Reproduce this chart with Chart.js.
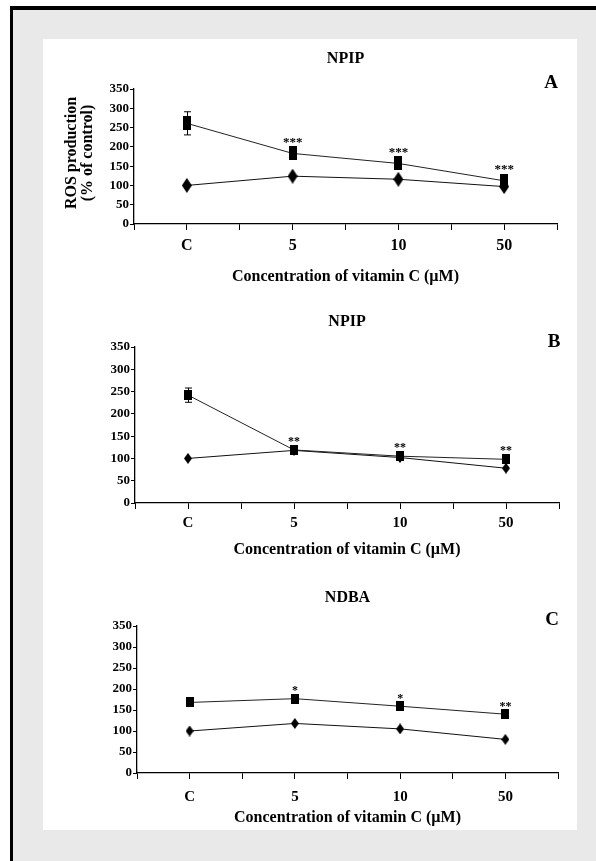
<!DOCTYPE html>
<html>
<head>
<meta charset="utf-8">
<title>ROS production vs vitamin C</title>
<script src="https://cdn.jsdelivr.net/npm/chart.js@4.4.1/dist/chart.umd.min.js"></script>
<style>
    html, body { margin: 0; padding: 0; background: #fff; }
    body { width: 596px; height: 861px; position: relative; overflow: hidden; }
    #frame {
        position: absolute; left: 10px; top: 6px; width: 586px; height: 855px;
        box-sizing: border-box; background: #e9e9e9;
        border-top: 4px solid #000; border-left: 3px solid #000;
    }
    #panel { position: absolute; left: 43px; top: 39px; width: 534px; height: 791px; background: #fff; }
    canvas { position: absolute; left: 0; }
</style>
</head>
<body>
<div id="frame"></div>
<div id="panel"></div>
<canvas id="chartA" width="596" height="290" style="top:0px"></canvas>
<canvas id="chartB" width="596" height="280" style="top:290px"></canvas>
<canvas id="chartC" width="596" height="291" style="top:570px"></canvas>

<script>
// values (ROS production, % of control)
const doseLabels = ['C', '5', '10', '50'];
const yMax = 350;
const yStep = 50;

// A - NPIP
const npipAControl = [100, 124, 116, 97];
const npipAVitC = [261, 183, 157, 112];
const npipASem = [30, 0, 0, 0];
const npipAStars = ['', '***', '***', '***'];

// B - NPIP
const npipBControl = [100, 118, 102, 78];
const npipBVitC = [242, 119, 105, 98];
const npipBSem = [16, 0, 0, 0];
const npipBStars = ['', '**', '**', '**'];

// C - NDBA
const ndbaControl = [100, 118, 105, 80];
const ndbaVitC = [168, 177, 159, 140];
const ndbaSem = [0, 0, 0, 0];
const ndbaStars = ['', '*', '*', '**'];

const SERIF = '"Liberation Serif", "Times New Roman", Times, serif';

function marker(shape, w, h) {
    const c = document.createElement('canvas');
    c.width = w; c.height = h;
    const g = c.getContext('2d');
    g.fillStyle = '#000';
    if (shape === 'square') {
        g.fillRect(0, 0, w, h);
    } else {
        g.beginPath();
        g.moveTo(w / 2, 0); g.lineTo(w, h / 2); g.lineTo(w / 2, h); g.lineTo(0, h / 2);
        g.closePath();
        g.fill();
    }
    return c;
}

// stars, error bars, panel letter and the two-line y title
const panelDecor = {
    id: 'panelDecor',
    beforeDatasetsDraw(chart, args, o) {
        const { ctx, scales: { x, y } } = chart;
        ctx.save();
        ctx.strokeStyle = '#000';
        ctx.lineWidth = 1;
        o.values.forEach((v, i) => {
            const e = o.sem[i];
            if (!e) return;
            const px = Math.round(x.getPixelForValue(i)) + 0.5;
            const hi = y.getPixelForValue(v + e), lo = y.getPixelForValue(v - e);
            ctx.beginPath();
            ctx.moveTo(px, hi); ctx.lineTo(px, lo);
            ctx.moveTo(px - 3.5, hi); ctx.lineTo(px + 3.5, hi);
            ctx.moveTo(px - 3.5, lo); ctx.lineTo(px + 3.5, lo);
            ctx.stroke();
        });
        ctx.restore();
    },
    afterDatasetsDraw(chart, args, o) {
        const { ctx, scales: { x, y } } = chart;
        ctx.save();
        ctx.fillStyle = '#000';
        ctx.font = `bold ${o.starSize}px ${SERIF}`;
        ctx.textAlign = 'center';
        ctx.textBaseline = 'alphabetic';
        o.stars.forEach((s, i) => {
            if (!s) return;
            const cy = y.getPixelForValue(o.values[i]) - o.starLift;
            ctx.fillText(s, x.getPixelForValue(i), cy + 0.48 * o.starSize);
        });
        ctx.restore();
    },
    afterDraw(chart, args, o) {
        const { ctx } = chart;
        ctx.save();
        ctx.fillStyle = '#000';
        ctx.textAlign = 'center';
        ctx.textBaseline = 'middle';
        ctx.font = `bold 19px ${SERIF}`;
        ctx.fillText(o.letter, o.letterX, o.letterY);

        ctx.font = `bold 16px ${SERIF}`;
        ctx.translate(o.yTitleX, o.yTitleY);
        ctx.rotate(-Math.PI / 2);
        ctx.fillText('ROS production', 0, 0);
        ctx.fillText('(% of control)', 0, o.yTitleGap);
        ctx.restore();
    }
};

function makePanel(id, p) {
    const top = p.canvasTop;
    const toPoints = (arr) => arr.map((v, i) => ({ x: i, y: v }));
    const tickFont = { family: SERIF, weight: 'bold', size: p.xFont, lineHeight: 1.2 };

    return new Chart(document.getElementById(id), {
        type: 'scatter',
        data: {
            datasets: [
                {
                    label: p.title + ' + vitamin C',
                    data: toPoints(p.treated),
                    showLine: true,
                    borderColor: '#222',
                    borderWidth: 1,
                    pointStyle: marker('square', p.sq[0], p.sq[1]),
                    pointRadius: 5,
                    pointHoverRadius: 5
                },
                {
                    label: 'vitamin C',
                    data: toPoints(p.control),
                    showLine: true,
                    borderColor: '#111',
                    borderWidth: 1,
                    pointStyle: marker('diamond', p.dm[0], p.dm[1]),
                    pointRadius: 5,
                    pointHoverRadius: 5
                }
            ]
        },
        options: {
            responsive: false,
            animation: false,
            events: [],
            layout: {
                padding: {
                    left: p.left - p.yW,
                    right: 596 - p.right,
                    top: 0,
                    bottom: p.canvasH - (p.bottom - top) - p.xH
                }
            },
            plugins: {
                legend: { display: false },
                tooltip: { enabled: false },
                title: {
                    display: true,
                    text: p.title,
                    fullSize: false,
                    color: '#000',
                    font: { family: SERIF, weight: 'bold', size: 16, lineHeight: 1.2 },
                    padding: { top: p.titleY - top - 9.6, bottom: p.top - p.titleY - 9.6 }
                },
                panelDecor: {
                    values: p.treated,
                    sem: p.sem,
                    stars: p.stars,
                    starSize: p.starSize,
                    starLift: p.starLift,
                    letter: p.letter,
                    letterX: p.letterX,
                    letterY: p.letterY - top,
                    yTitleX: p.yTitleX,
                    yTitleY: p.yTitleY - top,
                    yTitleGap: p.yTitleGap
                }
            },
            scales: {
                x: {
                    type: 'linear',
                    min: -0.5,
                    max: doseLabels.length - 0.5,
                    ticks: {
                        stepSize: 0.5,
                        autoSkip: false,
                        maxRotation: 0,
                        color: '#000',
                        font: tickFont,
                        padding: p.xPad,
                        callback: (v) => (Number.isInteger(v) ? doseLabels[v] : '')
                    },
                    grid: { drawOnChartArea: false, tickLength: 6, color: '#000', lineWidth: 1 },
                    border: { color: '#000', width: 1.3 },
                    title: {
                        display: true,
                        text: 'Concentration of vitamin C (µM)',
                        color: '#000',
                        font: { family: SERIF, weight: 'bold', size: 16, lineHeight: 1.2 },
                        padding: 0
                    },
                    afterFit: (s) => { s.height = p.xH; }
                },
                y: {
                    min: 0,
                    max: yMax,
                    ticks: {
                        stepSize: yStep,
                        color: '#000',
                        font: { family: SERIF, weight: 'bold', size: 13 },
                        padding: 1
                    },
                    grid: { drawOnChartArea: false, tickLength: 4, color: '#000', lineWidth: 1 },
                    border: { color: '#000', width: 1.3 },
                    afterFit: (s) => { s.width = p.yW; }
                }
            }
        },
        plugins: [panelDecor]
    });
}

makePanel('chartA', {
    title: 'NPIP', letter: 'A',
    treated: npipAVitC, control: npipAControl, sem: npipASem, stars: npipAStars,
    canvasTop: 0, canvasH: 290,
    left: 134, right: 557, top: 89, bottom: 224,
    yW: 60, xH: 62.6, xPad: 6.4, xFont: 16,
    titleY: 59, letterX: 551, letterY: 83,
    yTitleX: 72, yTitleY: 153, yTitleGap: 16,
    starSize: 13, starLift: 14,
    sq: [8, 14], dm: [10, 15]
});

makePanel('chartB', {
    title: 'NPIP', letter: 'B',
    treated: npipBVitC, control: npipBControl, sem: npipBSem, stars: npipBStars,
    canvasTop: 290, canvasH: 280,
    left: 135, right: 559, top: 347, bottom: 503,
    yW: 60, xH: 56.6, xPad: 5, xFont: 15,
    titleY: 322, letterX: 554, letterY: 342,
    yTitleX: 63, yTitleY: 413 - 290, yTitleGap: 19,
    starSize: 12, starLift: 11,
    sq: [8, 10], dm: [8, 11]
});

makePanel('chartC', {
    title: 'NDBA', letter: 'C',
    treated: ndbaVitC, control: ndbaControl, sem: ndbaSem, stars: ndbaStars,
    canvasTop: 570, canvasH: 291,
    left: 137, right: 558, top: 626, bottom: 773,
    yW: 60, xH: 54.6, xPad: 9, xFont: 15,
    titleY: 598, letterX: 552, letterY: 620,
    yTitleX: 63, yTitleY: 695 - 570, yTitleGap: 19,
    starSize: 12, starLift: 10,
    sq: [8, 10], dm: [8, 11]
});
</script>
</body>
</html>
